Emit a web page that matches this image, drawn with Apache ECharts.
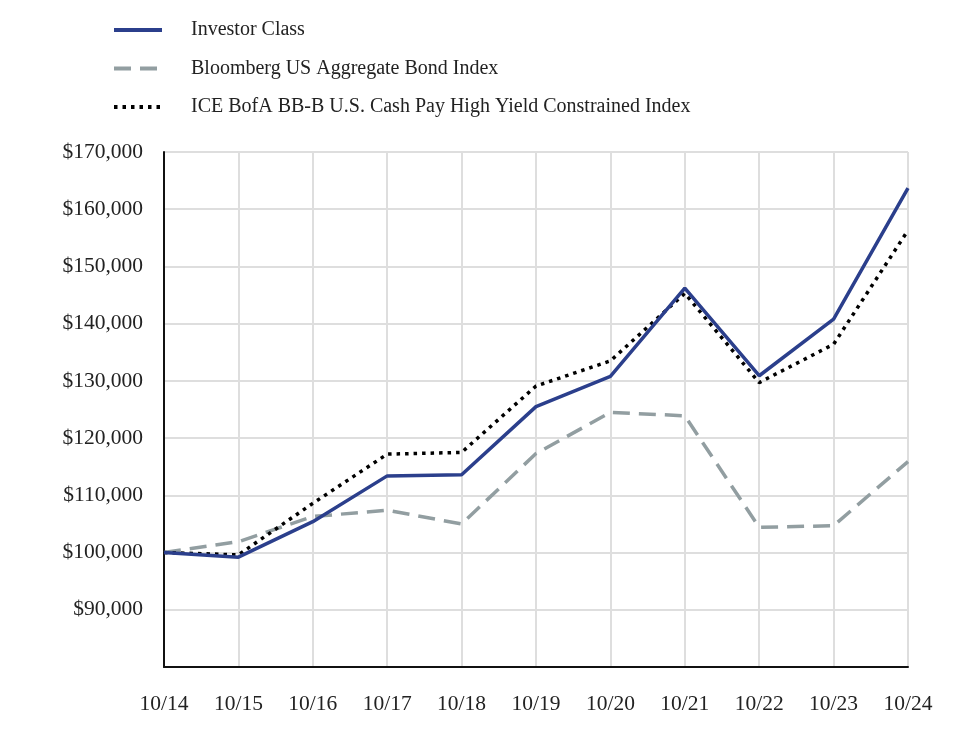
<!DOCTYPE html>
<html><head><meta charset="utf-8">
<script src="https://cdn.jsdelivr.net/npm/echarts@6/dist/echarts.min.js"></script>
<style>html,body{margin:0;padding:0;background:#fff}#c{width:964px;height:740px}</style>
</head><body><div id="c"></div>
<script>
const categories = ['10/14','10/15','10/16','10/17','10/18','10/19','10/20','10/21','10/22','10/23','10/24'];
const investorClass = [100000, 99200, 105400, 113400, 113600, 125500, 130800, 146200, 130900, 140800, 163700];
const bloombergAgg = [100000, 101900, 106300, 107400, 105000, 117300, 124500, 123900, 104400, 104700, 115900];
const iceBofA = [100000, 99600, 108600, 117200, 117500, 129100, 133500, 145300, 129700, 136400, 156300];
const seriesNames = ['Investor Class','Bloomberg US Aggregate Bond Index','ICE BofA BB-B U.S. Cash Pay High Yield Constrained Index'];

const font = '"Liberation Serif", "DejaVu Serif", serif';
const chart = echarts.init(document.getElementById('c'));
chart.setOption({
  animation: false,
  textStyle: { fontFamily: font },
  legend: {
    orient: 'vertical', left: 107, top: 15, itemWidth: 48, itemHeight: 14, itemGap: 18.5,
    itemStyle: { opacity: 0 },
    lineStyle: { width: 4 },
    textStyle: { fontFamily: font, fontSize: 20, color: '#222', padding: [0,0,0,24] },
    data: seriesNames
  },
  grid: { left: 164, right: 56, top: 152, bottom: 73, containLabel: false },
  xAxis: {
    type: 'category', data: categories, boundaryGap: false,
    axisLine: { lineStyle: { color: '#111', width: 2 } },
    axisTick: { show: false },
    axisLabel: { fontFamily: font, fontSize: 21.5, color: '#222', margin: 26 },
    splitLine: { show: true, lineStyle: { color: '#dedede', width: 2 } }
  },
  yAxis: {
    type: 'value', min: 80000, max: 170000, interval: 10000,
    axisLine: { show: true, lineStyle: { color: '#111', width: 2 } },
    axisTick: { show: false },
    axisLabel: { fontFamily: font, fontSize: 21.5, color: '#222', margin: 21,
      formatter: v => v === 80000 ? '' : '$' + v.toLocaleString('en-US') },
    splitLine: { lineStyle: { color: '#dedede', width: 2 } }
  },
  series: [
    { name: seriesNames[0], type: 'line', data: investorClass, showSymbol: false, symbol: 'none', z: 3,
      itemStyle: { color: '#2b3f8c' }, lineStyle: { color: '#2b3f8c', width: 3.5 } },
    { name: seriesNames[1], type: 'line', data: bloombergAgg, showSymbol: false, symbol: 'none', z: 1,
      itemStyle: { color: '#929ea1' }, lineStyle: { color: '#929ea1', width: 3.5, type: [17, 9] } },
    { name: seriesNames[2], type: 'line', data: iceBofA, showSymbol: false, symbol: 'none', z: 2,
      itemStyle: { color: '#000' }, lineStyle: { color: '#000', width: 3.5, type: [3.5, 5] } }
  ]
});
</script></body></html>
